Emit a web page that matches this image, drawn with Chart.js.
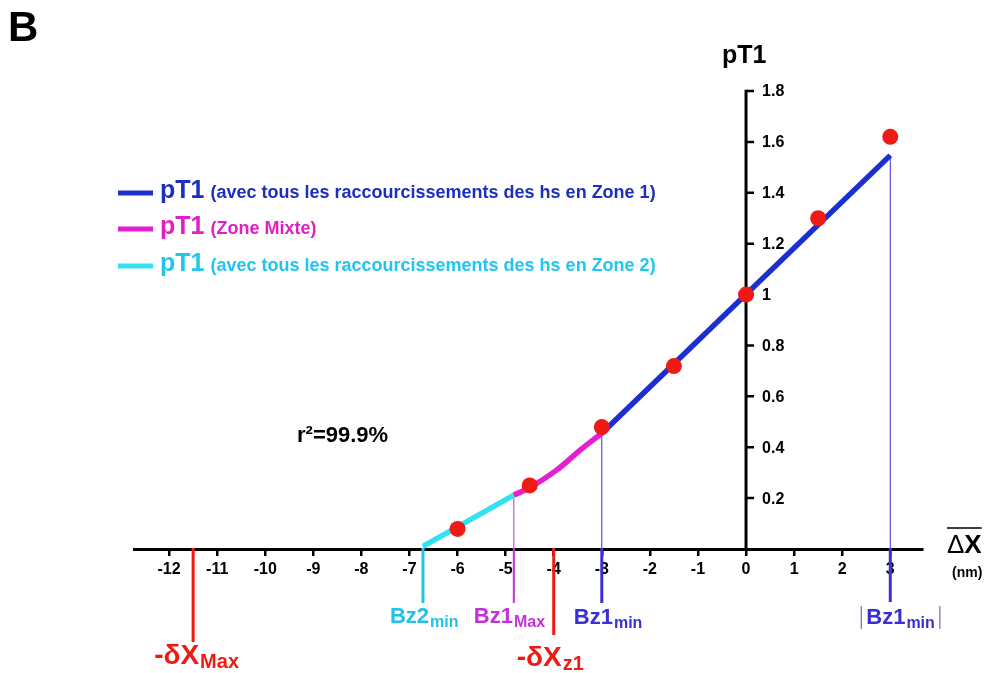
<!DOCTYPE html>
<html>
<head>
<meta charset="utf-8">
<script src="https://cdn.jsdelivr.net/npm/chart.js@4.4.0/dist/chart.umd.min.js"></script>
<style>
  body { margin: 0; background: #fff; }
  canvas { display: block; }
</style>
</head>
<body>
<canvas id="chart" width="990" height="673"></canvas>
<script>
// curve pieces (Zone 2 / Zone mixte / Zone 1)
const zone2X = [-6.72, -4.83];
const zone2Y = [0.01, 0.212];
const mixteX = [-4.83, -4.49, -3.94, -3.45, -3.0];
const mixteY = [0.212, 0.242, 0.31, 0.389, 0.455];
const zone1X = [-3.0, 3.0];
const zone1Y = [0.455, 1.547];

// measured pT1 points
const pointX = [-6, -4.5, -3, -1.5, 0, 1.5, 3];
const pointY = [0.079, 0.25, 0.479, 0.719, 1.0, 1.30, 1.62];

// y axis ticks
const yTicks = [0.2, 0.4, 0.6, 0.8, 1, 1.2, 1.4, 1.6, 1.8];
const yTickLabels = ['0.2', '0.4', '0.6', '0.8', '1', '1.2', '1.4', '1.6', '1.8'];

// markers on the x axis
const markerX = [-6.72, -4.83, -3, 3, -11.5, -4];
const markerTop = [0, 0.212, 0.455, 1.547, 0, 0];
const markerMain = ['Bz2', 'Bz1', 'Bz1', 'Bz1', '-\u03B4X', '-\u03B4X'];
const markerSub = ['min', 'Max', 'min', 'min', 'Max', 'z1'];

const legendLabels = [
    '(avec tous les raccourcissements des hs en Zone 1)',
    '(Zone Mixte)',
    '(avec tous les raccourcissements des hs en Zone 2)'
];

const FONT = '"Liberation Sans", Arial, sans-serif';
const BLUE = '#1b2fd1';
const MAGENTA = '#e31fd0';
const CYAN = '#33e2f0';
const RED = '#f01a14';

// styles for markers (colour, line width, line length below axis, label dx, label dy)
const markerColor = ['#22c3ec', '#c232d8', '#3a2fd4', '#3a2fd4', RED, RED];
const markerLabelColor = ['#22c0ea', '#c232d8', '#3a2fd4', '#3a2fd4', RED, RED];
const markerWidth = [3, 2, 3, 3, 3, 3];
const markerLen = [54, 54, 54, 53, 93, 86];
const markerDx = [-33, -40, -28, -24, -39, -37];
const markerDy = [74, 74, 75, 75, 115, 117];

function pts(xs, ys) {
    return xs.map((v, i) => ({ x: v, y: ys[i] }));
}

const guideSets = markerX
    .map((v, i) => ({ v, i }))
    .filter(m => markerTop[m.i] > 0)
    .map(m => ({
        data: [{ x: m.v, y: 0 }, { x: m.v, y: markerTop[m.i] }],
        showLine: true,
        borderColor: markerColor[m.i],
        borderWidth: 1,
        pointRadius: 0
    }));

function drawSub(ctx, main, sub, x, y, mainSize, subSize) {
    ctx.font = 'bold ' + mainSize + 'px ' + FONT;
    ctx.fillText(main, x, y);
    const w = ctx.measureText(main).width;
    ctx.font = 'bold ' + subSize + 'px ' + FONT;
    ctx.fillText(sub, x + w + 1, y + 4);
    return w + 1 + ctx.measureText(sub).width;
}

const overlay = {
    id: 'overlay',
    beforeDatasetsDraw(chart) {
        const { ctx, scales: { x, y } } = chart;
        const x0 = x.getPixelForValue(0);
        ctx.save();
        ctx.strokeStyle = '#000';
        ctx.lineWidth = 3;
        ctx.beginPath();
        ctx.moveTo(x0, y.getPixelForValue(0));
        ctx.lineTo(x0, y.getPixelForValue(1.8) - 1.2);
        ctx.stroke();
        ctx.lineWidth = 2.5;
        ctx.beginPath();
        yTicks.forEach(v => {
            const py = y.getPixelForValue(v);
            ctx.moveTo(x0, py);
            ctx.lineTo(x0 + 8, py);
        });
        ctx.stroke();
        ctx.fillStyle = '#000';
        ctx.font = 'bold 16px ' + FONT;
        ctx.textBaseline = 'middle';
        yTickLabels.forEach((t, i) => ctx.fillText(t, x0 + 16, y.getPixelForValue(yTicks[i]) + 1));
        ctx.restore();
    },
    afterDraw(chart) {
        const { ctx, scales: { x, y } } = chart;
        const y0 = y.getPixelForValue(0);
        ctx.save();
        ctx.textBaseline = 'alphabetic';

        // markers below the axis
        markerX.forEach((v, i) => {
            const px = x.getPixelForValue(v);
            ctx.strokeStyle = markerColor[i];
            ctx.lineWidth = markerWidth[i];
            ctx.beginPath();
            ctx.moveTo(px, y0 - 1);
            ctx.lineTo(px, y0 + markerLen[i]);
            ctx.stroke();
            ctx.fillStyle = markerLabelColor[i];
            const big = i >= 4;
            const lx = px + markerDx[i];
            const w = drawSub(ctx, markerMain[i], markerSub[i], lx, y0 + markerDy[i], big ? 28 : 22, big ? 20 : 16);
            if (i === 3) {
                ctx.strokeStyle = '#6f66e2';
                ctx.lineWidth = 1.2;
                ctx.beginPath();
                ctx.moveTo(lx - 5, y0 + 57); ctx.lineTo(lx - 5, y0 + 80);
                ctx.moveTo(lx + w + 5, y0 + 57); ctx.lineTo(lx + w + 5, y0 + 80);
                ctx.stroke();
            }
        });

        // legend
        const rowY = [198, 234, 271];
        const lineCol = [BLUE, MAGENTA, CYAN];
        const textCol = ['#1c2fbf', '#e31ec6', '#20c6f0'];
        rowY.forEach((by, i) => {
            ctx.strokeStyle = lineCol[i];
            ctx.lineWidth = 5;
            ctx.beginPath();
            ctx.moveTo(118, by - 5);
            ctx.lineTo(153, by - 5);
            ctx.stroke();
            ctx.fillStyle = textCol[i];
            ctx.font = 'bold 25px ' + FONT;
            ctx.fillText('pT1', 160, by);
            const w = ctx.measureText('pT1').width;
            ctx.font = 'bold 18px ' + FONT;
            ctx.fillText(legendLabels[i], 160 + w + 6, by);
        });

        // texts
        ctx.fillStyle = '#000';
        ctx.font = 'bold 42px ' + FONT;
        ctx.fillText('B', 8, 41);
        ctx.font = 'bold 25px ' + FONT;
        ctx.fillText('pT1', 722, 63);
        ctx.font = 'bold 22px ' + FONT;
        ctx.fillText('r\u00B2=99.9%', 297, 442);

        // delta X axis title
        ctx.font = '26px ' + FONT;
        ctx.fillText('\u0394', 947, 553);
        const dw = ctx.measureText('\u0394').width;
        ctx.font = 'bold 26px ' + FONT;
        ctx.fillText('X', 947 + dw, 553);
        const xw = ctx.measureText('X').width;
        ctx.strokeStyle = '#000';
        ctx.lineWidth = 1.5;
        ctx.beginPath();
        ctx.moveTo(947, 528);
        ctx.lineTo(947 + dw + xw, 528);
        ctx.stroke();
        ctx.font = 'bold 14px ' + FONT;
        ctx.fillText('(nm)', 952, 577);
        ctx.restore();
    }
};

new Chart(document.getElementById('chart'), {
    type: 'scatter',
    data: {
        datasets: [
            {
                data: pts(pointX, pointY),
                pointRadius: 8,
                pointBackgroundColor: RED,
                pointBorderWidth: 0,
                showLine: false
            },
            {
                data: pts(zone1X, zone1Y),
                showLine: true,
                borderColor: BLUE,
                borderWidth: 5.5,
                pointRadius: 0
            },
            {
                data: pts(mixteX, mixteY),
                showLine: true,
                borderColor: MAGENTA,
                borderWidth: 5.5,
                pointRadius: 0,
                tension: 0.4
            },
            {
                data: pts(zone2X, zone2Y),
                showLine: true,
                borderColor: CYAN,
                borderWidth: 5.5,
                pointRadius: 0
            },
            ...guideSets
        ]
    },
    options: {
        responsive: false,
        animation: false,
        devicePixelRatio: 1,
        layout: {
            padding: { left: 134, right: 68, top: 91, bottom: 84 }
        },
        plugins: {
            legend: { display: false },
            tooltip: { enabled: false }
        },
        scales: {
            x: {
                type: 'linear',
                position: 'bottom',
                min: -12.73,
                max: 3.66,
                afterFit: scale => { scale.height = 40; },
                border: { display: true, color: '#000', width: 3 },
                grid: {
                    drawOnChartArea: false,
                    drawTicks: true,
                    tickLength: 7,
                    color: '#000',
                    lineWidth: 2.5
                },
                ticks: {
                    stepSize: 1,
                    includeBounds: false,
                    padding: 4,
                    color: '#000',
                    font: { family: FONT, size: 16, weight: 'bold' }
                }
            },
            y: {
                type: 'linear',
                display: false,
                min: 0,
                max: 1.8
            }
        }
    },
    plugins: [overlay]
});
</script>
</body>
</html>
